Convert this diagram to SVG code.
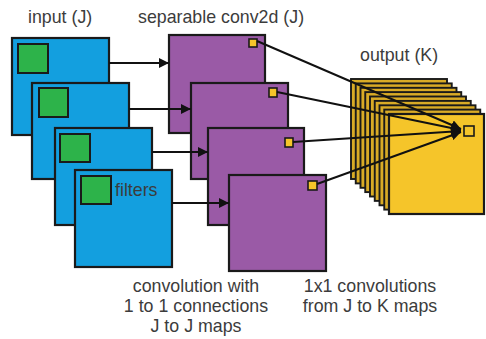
<svg xmlns="http://www.w3.org/2000/svg" width="486" height="339" viewBox="0 0 486 339">
  <defs>
    <style>
      .lbl { font-family: "Liberation Sans", Arial, Helvetica, sans-serif; font-size: 17.8px; fill: #3c3c3c; }
      .mid { text-anchor: middle; }
      .inmap { fill: #139fdf; stroke: #1a1a1a; stroke-width: 2.2; }
      .filt { fill: #2db34a; stroke: #1a1a1a; stroke-width: 2; }
      .dwmap { fill: #9a5aa6; stroke: #1a1a1a; stroke-width: 2.2; }
      .px { fill: #f5c52a; stroke: #1a1a1a; stroke-width: 1.6; }
      .outback { fill: #d9ab26; stroke: #1a1a1a; stroke-width: 1.9; }
      .outfront { fill: #f5c52a; stroke: #1a1a1a; stroke-width: 2.2; }
      .conn { fill: none; stroke: #111; stroke-width: 2; }
    </style>
    <marker id="head" viewBox="0 0 10 10" refX="10" refY="5" markerWidth="5" markerHeight="5" orient="auto" markerUnits="strokeWidth">
      <path d="M0,0 L10,5 L0,10 z" fill="#111"/>
    </marker>
  </defs>

  <!-- titles -->
  <text class="lbl" x="28" y="23">input (J)</text>
  <text class="lbl" x="138" y="23">separable conv2d (J)</text>
  <text class="lbl" x="360" y="61">output (K)</text>

  <!-- input maps with their depthwise filters -->
  <g id="input-1">
    <rect class="inmap" x="12" y="38" width="97" height="97"/>
    <rect class="filt" x="18" y="44" width="30" height="29"/>
  </g>
  <g id="input-2">
    <rect class="inmap" x="32" y="83" width="97" height="96"/>
    <rect class="filt" x="39" y="88" width="29" height="29"/>
  </g>
  <g id="input-3">
    <rect class="inmap" x="55" y="128" width="97" height="97"/>
    <rect class="filt" x="60" y="134" width="30" height="28"/>
  </g>
  <g id="input-4">
    <rect class="inmap" x="75" y="170" width="97" height="97"/>
    <rect class="filt" x="81" y="176" width="30" height="28"/>
    <text class="lbl" x="115" y="196">filters</text>
  </g>

  <!-- depthwise (separable) maps -->
  <g id="sep-1">
    <rect class="dwmap" x="169" y="35" width="96" height="98"/>
    <rect class="px" x="249" y="39" width="8" height="8"/>
  </g>
  <g id="sep-2">
    <rect class="dwmap" x="191" y="83" width="97" height="96"/>
    <rect class="px" x="269" y="88" width="8" height="9"/>
  </g>
  <g id="sep-3">
    <rect class="dwmap" x="208" y="128" width="96" height="97"/>
    <rect class="px" x="285" y="138" width="8" height="9"/>
  </g>
  <g id="sep-4">
    <rect class="dwmap" x="229" y="175" width="97" height="96"/>
    <rect class="px" x="308" y="181" width="9" height="9"/>
  </g>

  <!-- output maps, stacked back to front -->
  <g id="output">
    <rect class="outback" x="351" y="79" width="96" height="100"/>
    <rect class="outback" x="355.75" y="83.4" width="96" height="100"/>
    <rect class="outback" x="360.5" y="87.8" width="96" height="100"/>
    <rect class="outback" x="365.25" y="92.1" width="96" height="100"/>
    <rect class="outback" x="370" y="96.5" width="96" height="100"/>
    <rect class="outback" x="374.75" y="100.9" width="96" height="100"/>
    <rect class="outback" x="379.5" y="105.3" width="96" height="100"/>
    <rect class="outback" x="384.25" y="109.6" width="96" height="100"/>
    <rect class="outfront" x="389" y="114" width="95" height="100"/>
    <rect class="px" x="464" y="126" width="10" height="10"/>
  </g>

  <!-- connectors -->
  <g id="connectors">
    <line class="conn" x1="109" y1="63" x2="169" y2="63" marker-end="url(#head)"/>
    <line class="conn" x1="129" y1="109" x2="191" y2="109" marker-end="url(#head)"/>
    <line class="conn" x1="152" y1="152" x2="208" y2="152" marker-end="url(#head)"/>
    <line class="conn" x1="172" y1="203" x2="229" y2="203" marker-end="url(#head)"/>

    <line class="conn" x1="257" y1="41" x2="461" y2="129" marker-end="url(#head)"/>
    <line class="conn" x1="277" y1="92" x2="461" y2="130" marker-end="url(#head)"/>
    <line class="conn" x1="293" y1="142" x2="461" y2="131" marker-end="url(#head)"/>
    <line class="conn" x1="317" y1="184" x2="461" y2="132" marker-end="url(#head)"/>
  </g>

  <!-- captions -->
  <text class="lbl mid" x="196" y="292">convolution with</text>
  <text class="lbl mid" x="196" y="312">1 to 1 connections</text>
  <text class="lbl mid" x="196" y="332">J to J maps</text>
  <text class="lbl mid" x="370" y="292">1x1 convolutions</text>
  <text class="lbl mid" x="370" y="312">from J to K maps</text>
</svg>
